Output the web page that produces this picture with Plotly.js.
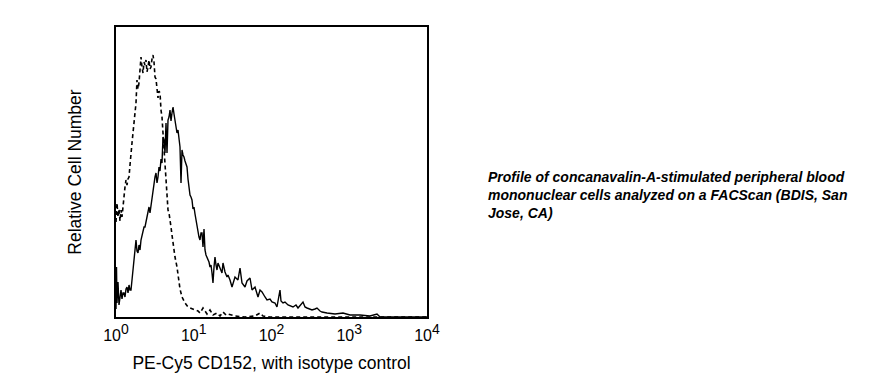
<!DOCTYPE html>
<html>
<head>
<meta charset="utf-8">
<script src="https://cdn.plot.ly/plotly-3.0.1.min.js"></script>
<style>
  html, body { margin: 0; padding: 0; background: #fff; }
  #chart { width: 895px; height: 385px; }
</style>
</head>
<body>
<div id="chart"></div>
<script>
// CD152 (PE-Cy5) stained cells – solid histogram
const cd152X = [1.000, 1.015, 1.030, 1.061, 1.093, 1.126, 1.160, 1.194, 1.230, 1.267, 1.305, 1.345, 1.385, 1.427, 1.470, 1.514, 1.559, 1.606, 1.654, 1.704, 1.755, 1.808, 1.862, 1.918, 1.976, 2.036, 2.097, 2.160, 2.225, 2.292, 2.360, 2.431, 2.504, 2.580, 2.657, 2.737, 2.819, 2.904, 2.991, 3.081, 3.174, 3.269, 3.368, 3.469, 3.573, 3.681, 3.791, 3.905, 4.023, 4.143, 4.268, 4.396, 4.528, 4.664, 4.805, 4.949, 5.098, 5.251, 5.409, 5.571, 5.739, 5.911, 6.089, 6.272, 6.461, 6.655, 6.855, 7.061, 7.273, 7.492, 7.717, 7.949, 8.188, 8.434, 8.687, 8.949, 9.218, 9.495, 9.780, 10.07, 10.38, 10.69, 11.01, 11.34, 11.68, 12.03, 12.40, 12.77, 13.15, 13.55, 13.95, 14.37, 14.81, 15.25, 15.71, 16.18, 16.67, 17.17, 17.68, 18.22, 18.76, 19.33, 19.91, 20.50, 21.76, 23.08, 23.78, 25.23, 26.77, 27.57, 29.26, 31.05, 33.93, 37.03, 39.35, 41.75, 45.63, 48.41, 52.91, 56.14, 61.36, 67.04, 71.15, 75.50, 82.51, 87.53, 95.66, 101.4, 110.9, 117.6, 128.6, 132.5, 140.5, 149.2, 163.0, 172.9, 189.0, 206.6, 219.2, 254.2, 269.7, 286.2, 312.7, 331.8, 362.7, 384.8, 420.6, 446.1, 517.4, 655.6, 831.1, 1022, 1375, 1849, 2275, 2486, 4495, 10000];
const cd152Y = [8, 50, 14, 35, 12, 22, 27, 18, 24, 24, 20, 28, 30, 24, 32, 27, 27, 37, 47, 60, 70, 77, 66, 64, 72, 67, 77, 82, 88, 90, 90, 95, 97, 104, 110, 104, 112, 117, 127, 137, 140, 144, 134, 140, 150, 146, 158, 154, 180, 177, 164, 194, 164, 197, 200, 207, 196, 204, 210, 203, 197, 192, 184, 187, 176, 170, 134, 167, 162, 160, 156, 152, 150, 138, 127, 122, 120, 117, 108, 110, 103, 96, 90, 86, 80, 77, 84, 84, 70, 88, 67, 62, 60, 58, 55, 50, 52, 44, 34, 50, 60, 52, 47, 54, 48, 44, 54, 45, 40, 42, 37, 30, 40, 37, 49, 34, 30, 36, 39, 27, 30, 20, 27, 25, 20, 17, 18, 15, 14, 10, 27, 16, 14, 15, 12, 11, 10, 12, 9, 15, 10, 9, 8, 7, 8, 9, 6, 5, 4, 3, 4, 2, 2, 1, 3, 0, 0, 0];

// Isotype control – dashed histogram
const isoX = [1.000, 1.030, 1.061, 1.093, 1.126, 1.160, 1.194, 1.230, 1.267, 1.305, 1.345, 1.385, 1.427, 1.470, 1.514, 1.559, 1.606, 1.654, 1.704, 1.755, 1.808, 1.862, 1.918, 1.976, 2.036, 2.097, 2.160, 2.225, 2.292, 2.360, 2.431, 2.504, 2.580, 2.657, 2.737, 2.819, 2.904, 2.991, 3.081, 3.174, 3.269, 3.368, 3.469, 3.573, 3.681, 3.791, 3.905, 4.023, 4.143, 4.268, 4.396, 4.528, 4.664, 4.805, 4.949, 5.098, 5.251, 5.409, 5.739, 6.089, 6.461, 6.655, 7.061, 7.717, 8.434, 8.949, 9.780, 10.38, 11.34, 12.03, 13.15, 13.95, 14.81, 16.18, 17.68, 19.91, 21.76, 23.78, 25.99, 27.57, 33.93, 45.63, 61.36, 71.15, 77.77, 95.66, 232.6, 760.3, 10000];
const isoY = [95, 114, 100, 108, 96, 107, 100, 112, 120, 130, 137, 132, 138, 140, 152, 160, 174, 184, 194, 205, 214, 237, 228, 234, 245, 260, 250, 244, 255, 252, 257, 245, 250, 257, 248, 250, 258, 262, 255, 240, 238, 230, 219, 226, 224, 207, 200, 184, 167, 157, 137, 125, 107, 104, 94, 90, 82, 74, 60, 50, 34, 28, 20, 14, 10, 9, 8, 7, 6, 4, 9, 6, 3, 7, 2, 4, 1, 5, 2, 3, 1, 0, 1, 4, 1, 0, 0, 0, 0];

const tickVals = [1, 10, 100, 1000, 10000];
const tickExps = ['0', '1', '2', '3', '4'];

const xTitle = 'PE-Cy5 CD152, with isotype control';
const yTitle = 'Relative Cell Number';
const note = 'Profile of concanavalin-A-stimulated peripheral blood<br>mononuclear cells analyzed on a FACScan (BDIS, San<br>Jose, CA)';

const tickText = tickExps.map(e => '10<sup><span style="font-size:14px">' + e + '</span></sup>');

const traces = [
  {
    x: isoX, y: isoY, type: 'scatter', mode: 'lines', name: 'Isotype control',
    line: { color: '#000', width: 1.6, dash: '4px,3px', shape: 'linear' },
    hoverinfo: 'skip'
  },
  {
    x: cd152X, y: cd152Y, type: 'scatter', mode: 'lines', name: 'CD152',
    line: { color: '#000', width: 1.4, shape: 'linear' },
    hoverinfo: 'skip'
  }
];

const layout = {
  width: 895, height: 385,
  margin: { l: 116, r: 468, t: 27, b: 68 },
  paper_bgcolor: '#fff', plot_bgcolor: '#fff',
  showlegend: false,
  font: { family: '"Liberation Sans", Arial, sans-serif', color: '#000' },
  xaxis: {
    type: 'log', range: [0, 4],
    tickvals: tickVals, ticktext: tickText,
    ticks: '', showgrid: false, zeroline: false,
    showline: true, mirror: true, linecolor: '#000', linewidth: 2,
    tickfont: { size: 16, color: '#000' },
    ticklabelstandoff: 3,
    title: { text: xTitle, font: { size: 17.5, color: '#000' }, standoff: 14 },
    automargin: false
  },
  yaxis: {
    range: [0, 290],
    showticklabels: false, ticks: '', showgrid: false, zeroline: false,
    showline: true, mirror: true, linecolor: '#000', linewidth: 2,
    title: { text: yTitle, font: { size: 17.5, color: '#000' }, standoff: 28 },
    automargin: false
  },
  annotations: [
    {
      xref: 'paper', yref: 'paper', x: 1.19, y: 0.422,
      xanchor: 'left', yanchor: 'middle', align: 'left', showarrow: false,
      text: '<b><i>' + note + '</i></b>',
      font: { size: 14, color: '#000', family: '"Liberation Sans", Arial, sans-serif' }
    }
  ]
};

Plotly.newPlot('chart', traces, layout, { displayModeBar: false, staticPlot: true });
</script>
</body>
</html>
